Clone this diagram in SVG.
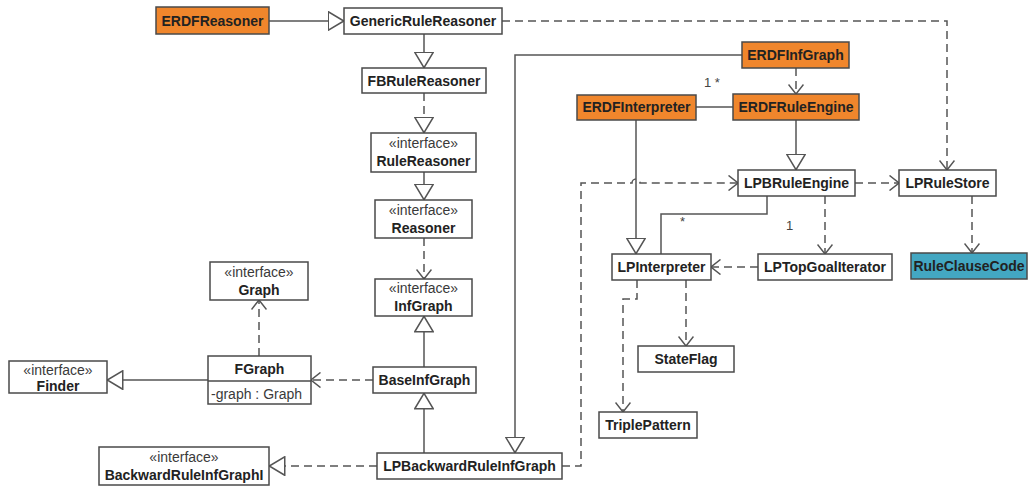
<svg xmlns="http://www.w3.org/2000/svg" width="1030" height="489" viewBox="0 0 1030 489">
  <style>
    .box { fill: #ffffff; stroke: #4a4a4a; stroke-width: 1.5; }
    .erdf { fill: #f0862c; }
    .store { fill: #43a7c2; }
    .name { font-family: "Liberation Sans", Arial, sans-serif; font-size: 14px; font-weight: bold; fill: #222222; text-anchor: middle; }
    .stereo { font-family: "Liberation Sans", Arial, sans-serif; font-size: 14px; fill: #3a3a3a; text-anchor: middle; }
    .attr { font-family: "Liberation Sans", Arial, sans-serif; font-size: 14px; fill: #3a3a3a; }
    .mult { font-family: "Liberation Sans", Arial, sans-serif; font-size: 13px; fill: #444444; }
    .edge { fill: none; stroke: #555555; stroke-width: 1.5; }
    .dash { stroke-dasharray: 8 5; }
    .gen { marker-end: url(#hollow); }
    .dep { marker-end: url(#open); }
  </style>
  <defs>
    <marker id="hollow" viewBox="0 0 17 20" refX="16.5" refY="10" markerWidth="17" markerHeight="20" markerUnits="userSpaceOnUse" orient="auto">
      <path d="M0.75,0.75 L16.25,10 L0.75,19.25 Z" fill="#ffffff" stroke="#555555" stroke-width="1.5"/>
    </marker>
    <marker id="open" viewBox="0 0 11 16" refX="10" refY="8" markerWidth="11" markerHeight="16" markerUnits="userSpaceOnUse" orient="auto">
      <path d="M0.5,0.5 L10,8 L0.5,15.5" fill="none" stroke="#555555" stroke-width="1.5"/>
    </marker>
  </defs>

  <rect width="1030" height="489" fill="#ffffff"/>

  <!-- connectors -->
  <g id="connectors">
    <path class="edge gen" d="M269,21 L344,21"/>
    <path class="edge gen" d="M424,34 L424,68"/>
    <path class="edge dash gen" d="M424,93 L424,133"/>
    <path class="edge gen" d="M424,172 L424,200"/>
    <path class="edge dash dep" d="M424,238 L424,279"/>
    <path class="edge gen" d="M424,367 L424,316"/>
    <path class="edge gen" d="M424,453 L424,393"/>
    <path class="edge dash dep" d="M373,380 L311,380"/>
    <path class="edge gen" d="M208,380 L107,380"/>
    <path class="edge dash dep" d="M259,356 L259,300"/>
    <path class="edge dash gen" d="M377,466 L269,466"/>
    <path class="edge gen" d="M742,55 L515,55 L515,453"/>
    <path class="edge dash dep" d="M796,68 L796,94"/>
    <path class="edge" d="M696,107 L733,107"/>
    <path class="edge gen" d="M796,120 L796,170"/>
    <path class="edge dash dep" d="M502,21 L947,21 L947,170"/>
    <path class="edge dash dep" d="M855,183 L899,183"/>
    <path class="edge dash dep" d="M972,196 L972,253"/>
    <path class="edge dash dep" d="M825,196 L825,254"/>
    <path class="edge dash dep" d="M758,267 L711,267"/>
    <path class="edge gen" d="M636,120 L636,254"/>
    <path class="edge" d="M767,196 L767,214 L661,214 L661,254"/>
    <path class="edge dash dep" d="M562,466 L581,466 L581,183 L632,183 A4,4 0 0 1 640,183 L738,183"/>
    <path class="edge dash dep" d="M686,280 L686,346"/>
    <path class="edge dash dep" d="M637,280 L637,299 L623,299 L623,412"/>
    <text class="mult" x="704" y="87">1 *</text>
    <text class="mult" x="786" y="230">1</text>
    <text class="mult" x="680" y="226">*</text>
  </g>

  <!-- classes -->
  <g id="ERDFReasoner">
    <rect class="box erdf" x="156" y="7" width="113" height="27"/>
    <text class="name" x="212.5" y="26">ERDFReasoner</text>
  </g>
  <g id="GenericRuleReasoner">
    <rect class="box" x="344" y="8" width="158" height="26"/>
    <text class="name" x="423" y="26">GenericRuleReasoner</text>
  </g>
  <g id="FBRuleReasoner">
    <rect class="box" x="362" y="68" width="124" height="25"/>
    <text class="name" x="424" y="86">FBRuleReasoner</text>
  </g>
  <g id="RuleReasoner">
    <rect class="box" x="371" y="133" width="105" height="39"/>
    <text class="stereo" x="423.5" y="148">«interface»</text>
    <text class="name" x="423.5" y="166">RuleReasoner</text>
  </g>
  <g id="Reasoner">
    <rect class="box" x="375" y="200" width="97" height="38"/>
    <text class="stereo" x="423.5" y="215">«interface»</text>
    <text class="name" x="423.5" y="233">Reasoner</text>
  </g>
  <g id="InfGraph">
    <rect class="box" x="375" y="279" width="97" height="37"/>
    <text class="stereo" x="423.5" y="293">«interface»</text>
    <text class="name" x="423.5" y="311">InfGraph</text>
  </g>
  <g id="BaseInfGraph">
    <rect class="box" x="373" y="367" width="103" height="26"/>
    <text class="name" x="424.5" y="385">BaseInfGraph</text>
  </g>
  <g id="LPBackwardRuleInfGraph">
    <rect class="box" x="377" y="453" width="185" height="26"/>
    <text class="name" x="469.5" y="471">LPBackwardRuleInfGraph</text>
  </g>
  <g id="Graph">
    <rect class="box" x="210" y="262" width="98" height="38"/>
    <text class="stereo" x="259" y="277">«interface»</text>
    <text class="name" x="259" y="295">Graph</text>
  </g>
  <g id="FGraph">
    <rect class="box" x="208" y="356" width="103" height="48"/>
    <line x1="208" y1="381" x2="311" y2="381" stroke="#4a4a4a" stroke-width="1.5"/>
    <text class="name" x="259.5" y="374">FGraph</text>
    <text class="attr" x="211" y="399">-graph : Graph</text>
  </g>
  <g id="Finder">
    <rect class="box" x="9" y="361" width="98" height="32"/>
    <text class="stereo" x="58" y="375">«interface»</text>
    <text class="name" x="58" y="391">Finder</text>
  </g>
  <g id="BackwardRuleInfGraphI">
    <rect class="box" x="99" y="447" width="170" height="38"/>
    <text class="stereo" x="184" y="462">«interface»</text>
    <text class="name" x="184" y="480">BackwardRuleInfGraphI</text>
  </g>
  <g id="ERDFInfGraph">
    <rect class="box erdf" x="742" y="42" width="107" height="26"/>
    <text class="name" x="795.5" y="60">ERDFInfGraph</text>
  </g>
  <g id="ERDFRuleEngine">
    <rect class="box erdf" x="733" y="94" width="126" height="26"/>
    <text class="name" x="796" y="112">ERDFRuleEngine</text>
  </g>
  <g id="ERDFInterpreter">
    <rect class="box erdf" x="577" y="95" width="119" height="25"/>
    <text class="name" x="636.5" y="112">ERDFInterpreter</text>
  </g>
  <g id="LPBRuleEngine">
    <rect class="box" x="738" y="170" width="117" height="26"/>
    <text class="name" x="796.5" y="188">LPBRuleEngine</text>
  </g>
  <g id="LPRuleStore">
    <rect class="box" x="899" y="170" width="97" height="26"/>
    <text class="name" x="947.5" y="188">LPRuleStore</text>
  </g>
  <g id="RuleClauseCode">
    <rect class="box store" x="911" y="253" width="116" height="26"/>
    <text class="name" x="969" y="271">RuleClauseCode</text>
  </g>
  <g id="LPTopGoalIterator">
    <rect class="box" x="758" y="254" width="134" height="26"/>
    <text class="name" x="825" y="272">LPTopGoalIterator</text>
  </g>
  <g id="LPInterpreter">
    <rect class="box" x="612" y="254" width="99" height="26"/>
    <text class="name" x="661.5" y="272">LPInterpreter</text>
  </g>
  <g id="StateFlag">
    <rect class="box" x="638" y="346" width="96" height="26"/>
    <text class="name" x="686" y="364">StateFlag</text>
  </g>
  <g id="TriplePattern">
    <rect class="box" x="599" y="412" width="98" height="26"/>
    <text class="name" x="648" y="430">TriplePattern</text>
  </g>
</svg>
